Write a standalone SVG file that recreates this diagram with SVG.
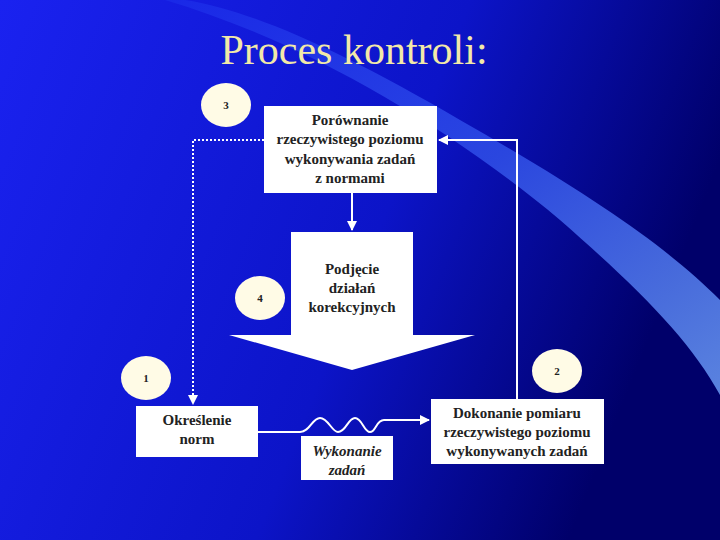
<svg xmlns="http://www.w3.org/2000/svg" width="720" height="540" viewBox="0 0 720 540">
<defs>
<linearGradient id="bg" x1="0" y1="0" x2="1" y2="0.3">
<stop offset="0" stop-color="#1a22f0"/><stop offset="0.6" stop-color="#0c14c8"/><stop offset="1" stop-color="#00006a"/>
</linearGradient>
<linearGradient id="sw" x1="0" y1="0" x2="1" y2="1">
<stop offset="0" stop-color="#1a2ae8"/><stop offset="0.5" stop-color="#3050e8"/><stop offset="1" stop-color="#6a9af4"/>
</linearGradient>
<marker id="ah" viewBox="0 0 10 10" refX="9" refY="5" markerWidth="5" markerHeight="5" orient="auto"><path d="M0,0 L10,5 L0,10 z" fill="#fff"/></marker>
<style>
.box{fill:#fff}
.t{font-family:"Liberation Serif","Times New Roman","DejaVu Serif",serif;font-size:15px;font-weight:bold;fill:#222;text-anchor:middle}
.ti{font-family:"Liberation Serif","Times New Roman","DejaVu Serif",serif;font-size:15px;font-style:italic;font-weight:bold;fill:#222;text-anchor:middle}
.n{font-family:"Liberation Serif","DejaVu Serif",serif;font-size:11px;font-weight:bold;fill:#222;text-anchor:middle}
.ttl{font-family:"Liberation Serif","Times New Roman","DejaVu Serif",serif;font-size:42px;fill:#f2e9a8;text-anchor:middle}
.c{fill:#fffbe6}
.ln{fill:none;stroke:#fff;stroke-width:2}
</style>
</defs>
<rect width="720" height="540" fill="url(#bg)"/>
<path d="M165,0 C300,40 440,120 560,220 C640,290 690,340 720,395 L720,300 C670,250 600,200 460,120 C340,50 250,10 185,0 z" fill="url(#sw)" opacity="0.85"/>
<text class="ttl" x="354" y="64">Proces kontroli:</text>
<g id="connectors">
<path class="ln" d="M352,193 L352,230" marker-end="url(#ah)"/>
<path class="ln" d="M517,399 L517,140 L439,140" marker-end="url(#ah)"/>
<path class="ln" d="M264,140 L193,140 L193,404" stroke-dasharray="2,2" marker-end="url(#ah)"/>
<path class="ln" d="M258,432 L300,432 C310,432 312,418 320,418 C328,418 332,432 338,432 C346,432 348,418 355,418 C362,418 364,432 370,432 C376,432 376,420 384,420 L429,420" marker-end="url(#ah)"/>
</g>
<g id="porownanie"><rect class="box" x="264" y="106" width="173" height="87"/>
<text class="t" x="350" y="125">Porównanie</text><text class="t" x="350" y="144">rzeczywistego poziomu</text><text class="t" x="350" y="164">wykonywania zadań</text><text class="t" x="350" y="183">z normami</text></g>
<g id="korekcja"><path class="box" d="M291,232 L413,232 L413,335 L475,335 L352,370 L229,335 L291,335 z"/>
<text class="t" x="352" y="274">Podjęcie</text><text class="t" x="352" y="293">działań</text><text class="t" x="352" y="312">korekcyjnych</text></g>
<g id="okreslenie"><rect class="box" x="136" y="406" width="122" height="51"/>
<text class="t" x="197" y="425">Określenie</text><text class="t" x="197" y="444">norm</text></g>
<g id="wykonanie"><rect class="box" x="301" y="436" width="92" height="44"/>
<text class="ti" x="347" y="456">Wykonanie</text><text class="ti" x="347" y="475">zadań</text></g>
<g id="dokonanie"><rect class="box" x="431" y="399" width="173" height="65"/>
<text class="t" x="517" y="418">Dokonanie pomiaru</text><text class="t" x="517" y="437">rzeczywistego poziomu</text><text class="t" x="517" y="456">wykonywanych zadań</text></g>
<g id="n3"><ellipse class="c" cx="226" cy="105" rx="25" ry="22"/><text class="n" x="226" y="109">3</text></g>
<g id="n4"><ellipse class="c" cx="260" cy="298" rx="25" ry="22"/><text class="n" x="260" y="302">4</text></g>
<g id="n1"><ellipse class="c" cx="146" cy="378" rx="25" ry="22"/><text class="n" x="146" y="382">1</text></g>
<g id="n2"><ellipse class="c" cx="557" cy="371" rx="25" ry="22"/><text class="n" x="557" y="375">2</text></g>
</svg>
